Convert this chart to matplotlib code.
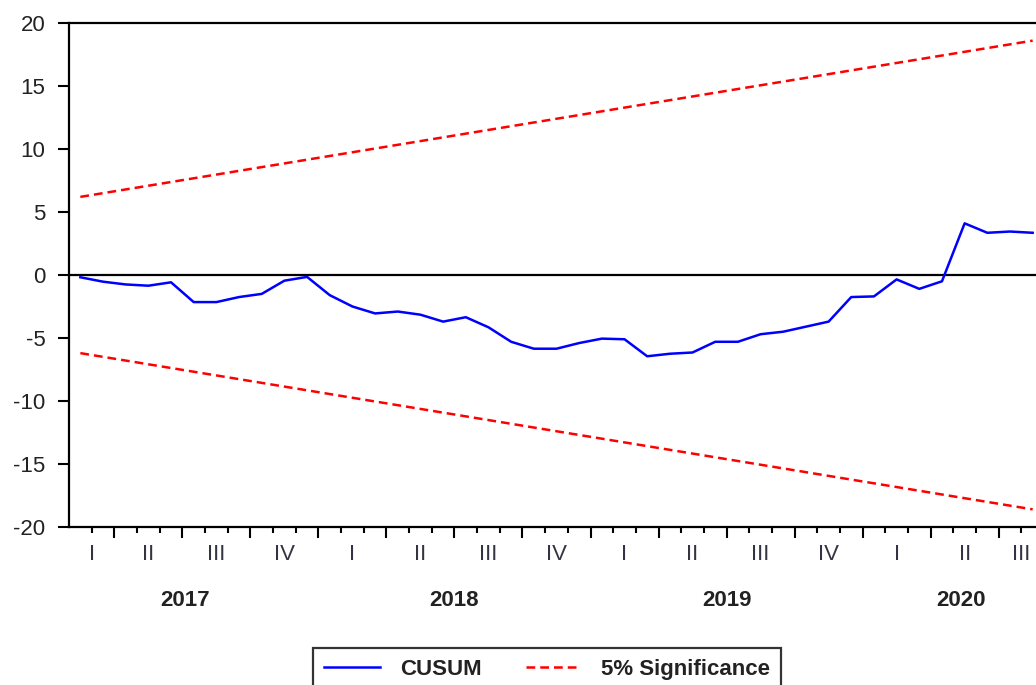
import numpy as np
import pandas as pd
import matplotlib
matplotlib.use("Agg")
import matplotlib.pyplot as plt

plt.rcParams['font.family'] = ['Liberation Sans', 'DejaVu Sans']
plt.rcParams['axes.unicode_minus'] = False

# monthly recursive CUSUM, Feb 2017 - Aug 2020
months = pd.period_range('2017-02', '2020-08', freq='M')
cusum = [-0.18, -0.53, -0.75, -0.85, -0.58, -2.15, -2.15, -1.75, -1.5, -0.45,
         -0.15, -1.6, -2.5, -3.05, -2.9, -3.15, -3.7, -3.35, -4.15, -5.3,
         -5.85, -5.85, -5.4, -5.05, -5.1, -6.45, -6.25, -6.15, -5.3, -5.3,
         -4.7, -4.5, -4.1, -3.7, -1.75, -1.7, -0.35, -1.1, -0.5, 4.1,
         3.35, 3.45, 3.35]
# 5% significance bounds (straight lines between first and last obs)
bound_months = [pd.Period('2017-02', 'M'), pd.Period('2020-08', 'M')]
upper = [6.2, 18.6]
lower = [-6.2, -18.6]
roman = {1: 'I', 2: 'II', 3: 'III', 4: 'IV'}


def pos(p):
    return (p - months[0]).n + 0.5


W, H = 1036, 685
fig = plt.figure(figsize=(W / 100, H / 100), dpi=100)
ax = fig.add_axes([69 / W, (H - 527) / H, (1044 - 69) / W, (527 - 23) / H])

x = [pos(m) for m in months]
xb = [pos(m) for m in bound_months]
ax.plot(x, cusum, color='#0000FF', lw=1.8, label='CUSUM')
ax.plot(xb, upper, color='#FF0000', lw=1.8, ls=(0, (3.5, 2)), label='5% Significance')
ax.plot(xb, lower, color='#FF0000', lw=1.8, ls=(0, (3.5, 2)))
ax.axhline(0, color='black', lw=1.6, zorder=1)

n = len(months)
ax.set_xlim(0, n)
ax.set_ylim(-20, 20)
ax.set_yticks(np.arange(-20, 21, 5))
ax.tick_params(axis='y', direction='out', length=8, width=1.5, pad=9,
               labelsize=16, labelcolor='#222222')

# month ticks (quarter boundaries longer)
qb = [i for i, m in enumerate(months) if m.month in (1, 4, 7, 10) and i > 0]
mb = [i for i in range(1, n) if i not in qb]
ax.set_xticks(qb)
ax.set_xticks(mb, minor=True)
ax.set_xticklabels([])
ax.tick_params(axis='x', which='major', direction='out', length=8, width=1.5)
ax.tick_params(axis='x', which='minor', direction='out', length=4, width=1.5)

for s in ax.spines.values():
    s.set_linewidth(1.6)

# quarter labels and year labels
qcent = {}
for q in pd.period_range(months[0].asfreq('Q'), months[-1].asfreq('Q'), freq='Q'):
    a = max(0, (q.asfreq('M', 's') - months[0]).n)
    b = min(n, (q.asfreq('M', 'e') - months[0]).n + 1)
    c = (a + b) / 2
    qcent.setdefault(q.year, []).append(c)
    ax.annotate(roman[q.quarter], (c, 0), xycoords=('data', 'axes fraction'),
                xytext=(0, -20), textcoords='offset points', ha='center',
                va='center', fontsize=16, color='#333344')
for yr, cs in qcent.items():
    ax.annotate(str(yr), (np.mean(cs), 0), xycoords=('data', 'axes fraction'),
                xytext=(0, -53), textcoords='offset points', ha='center',
                va='center', fontsize=16, fontweight='bold', color='#222222')

leg = fig.legend(loc='upper left', bbox_to_anchor=(313 / W, 1 - 648 / H),
                 ncol=2, frameon=True, fancybox=False, edgecolor='black',
                 borderpad=0.5, borderaxespad=0, handlelength=2.5,
                 handletextpad=0.9, columnspacing=2.0,
                 prop={'size': 16, 'weight': 'bold'})
leg.get_frame().set_linewidth(1.6)
for t in leg.get_texts():
    t.set_color('#222222')

fig.savefig('out.png', dpi=100)
